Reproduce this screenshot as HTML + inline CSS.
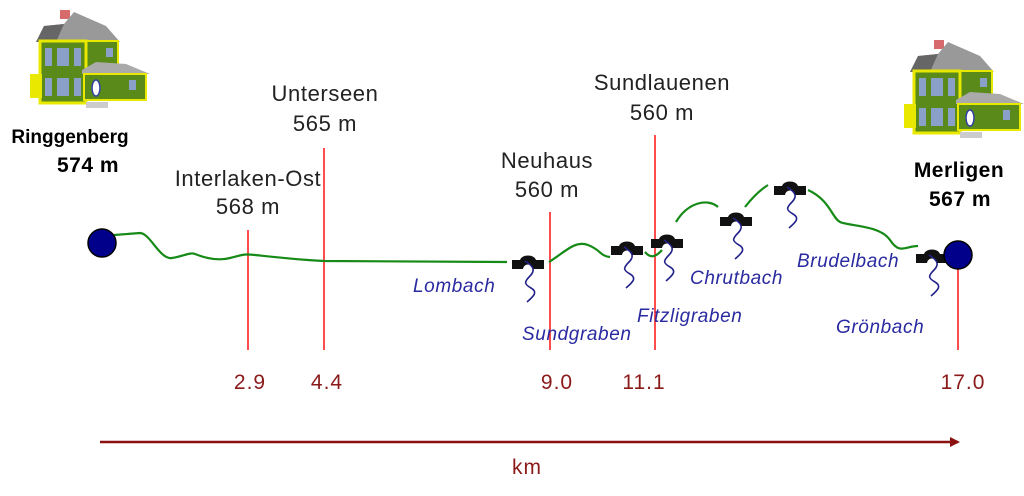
<!DOCTYPE html>
<html><head><meta charset="utf-8"><style>
body{margin:0;background:#fff}
svg{display:block}
text{font-family:"Liberation Sans",sans-serif}
.b{font-size:22px;fill:#222;letter-spacing:0.6px}
.bb{font-size:19px;fill:#000;font-weight:bold}
.bm{font-size:21px;fill:#000;font-weight:bold;letter-spacing:0.5px}
.r{font-size:21px;fill:#8b1a1a;letter-spacing:1px}
.i{font-size:19px;fill:#2a2aa0;font-style:italic;letter-spacing:0.6px}
</style></head><body>
<svg width="1024" height="496" viewBox="0 0 1024 496">
<defs>
<g id="house">
<rect x="34" y="2" width="10" height="9" fill="#d76a6a"/>
<polygon points="10,34 18,18 38,16 48,4 80,18 94,34" fill="#999"/>
<polygon points="10,34 18,18 38,16 30,34" fill="#666"/>
<rect x="58" y="33" width="34" height="30" fill="#5a8a1a" stroke="#e8e800" stroke-width="2"/>
<rect x="14" y="33" width="46" height="62" fill="#5a8a1a" stroke="#e8e800" stroke-width="3"/>
<polygon points="56,62 70,54 100,56 124,66 56,66" fill="#aaa"/>
<rect x="58" y="66" width="62" height="26" fill="#5a8a1a" stroke="#e8e800" stroke-width="2"/>
<rect x="4" y="66" width="12" height="24" fill="#e8e800"/>
<g fill="#8aa0c8"><rect x="19" y="40" width="7" height="18"/><rect x="31" y="40" width="12" height="18"/><rect x="48" y="40" width="7" height="18"/>
<rect x="19" y="70" width="7" height="18"/><rect x="31" y="70" width="12" height="18"/><rect x="48" y="70" width="7" height="18"/><rect x="80" y="40" width="7" height="9"/><rect x="103" y="72" width="7" height="10"/></g>
<ellipse cx="70" cy="80" rx="4" ry="8" fill="#fff" stroke="#3040a0" stroke-width="1.5"/>
<rect x="60" y="94" width="22" height="6" fill="#ccc"/>
</g>
<g id="br"><path d="M-16,2 L-8,2 C-6,-4 6,-4 8,2 L16,2 L16,11 L5,11 C4,5 -4,5 -5,11 L-16,11 Z" fill="#111"/>
<path d="M-3,3 C5,8 8,12 2,18 S-4,26 3,30 S6,38 -1,44" fill="none" stroke="#22228a" stroke-width="1.6"/></g>
<marker id="ah" markerWidth="10" markerHeight="10" refX="8" refY="5" orient="auto" markerUnits="userSpaceOnUse"><path d="M0,0 L10,5 L0,10 Z" fill="#8b1010"/></marker>
</defs>
<use href="#house" x="26" y="8"/>
<use href="#house" x="900" y="38"/>
<g stroke="#ff2020" stroke-width="1.6">
<line x1="248" y1="230" x2="248" y2="350"/><line x1="324" y1="148" x2="324" y2="350"/>
<line x1="550" y1="212" x2="550" y2="350"/><line x1="655" y1="135" x2="655" y2="350"/>
<line x1="958" y1="255" x2="958" y2="350"/></g>
<g fill="none" stroke="#168a16" stroke-width="2.2">
<path d="M114,235 L140,233 C150,233 160,260 172,258 S190,252 195,254 S215,262 230,258 S245,254 255,255 S300,260 325,261 L507,262"/>
<path d="M549,262 C565,252 575,240 588,245 S600,256 610,257"/>
<path d="M645,252 C650,258 655,258 662,250"/>
<path d="M676,222 C688,202 708,198 718,207"/>
<path d="M745,207 C752,198 760,190 768,185"/>
<path d="M808,190 C830,200 832,218 840,222 S880,225 890,240 S905,246 918,246"/>
</g>
<use href="#br" x="528" y="258"/><use href="#br" x="627" y="244"/><use href="#br" x="667" y="237"/>
<use href="#br" x="736" y="215"/><use href="#br" x="790" y="184"/><use href="#br" x="932" y="252"/>
<circle cx="102" cy="243" r="14" fill="#00008b" stroke="#000" stroke-width="1.5"/>
<circle cx="958" cy="255" r="14" fill="#00008b" stroke="#000" stroke-width="1.5"/>
<g text-anchor="middle">
<text class="bb" x="70" y="143">Ringgenberg</text><text class="bm" x="88" y="172">574 m</text>
<text class="bm" x="959" y="177">Merligen</text><text class="bm" x="960" y="206">567 m</text>
<text class="b" x="248" y="186">Interlaken-Ost</text><text class="b" x="248" y="214">568 m</text>
<text class="b" x="325" y="101">Unterseen</text><text class="b" x="325" y="131">565 m</text>
<text class="b" x="547" y="168">Neuhaus</text><text class="b" x="547" y="197">560 m</text>
<text class="b" x="662" y="90">Sundlauenen</text><text class="b" x="662" y="120">560 m</text>
<text class="r" x="250" y="389">2.9</text><text class="r" x="327" y="389">4.4</text>
<text class="r" x="557" y="389">9.0</text><text class="r" x="644" y="389">11.1</text>
<text class="r" x="963" y="389">17.0</text>
<text class="r" x="527" y="474">km</text>
</g>
<g>
<text class="i" x="413" y="292">Lombach</text><text class="i" x="522" y="340">Sundgraben</text>
<text class="i" x="637" y="322">Fitzligraben</text><text class="i" x="690" y="284">Chrutbach</text>
<text class="i" x="797" y="267">Brudelbach</text><text class="i" x="836" y="333">Grönbach</text>
</g>
<line x1="100" y1="442" x2="958" y2="442" stroke="#8b1010" stroke-width="2.5" marker-end="url(#ah)"/>
</svg>
</body></html>
